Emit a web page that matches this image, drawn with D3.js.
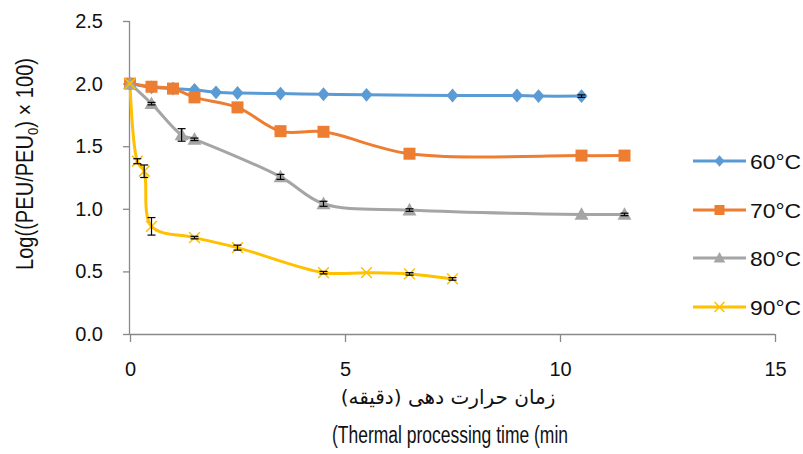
<!DOCTYPE html>
<html><head><meta charset="utf-8">
<script src="https://cdn.jsdelivr.net/npm/d3@7"></script>
<style>body{margin:0;background:#fff}svg{display:block}</style>
</head><body><svg id="c" width="803" height="454"></svg>
<script>
const seriesNames = ["60°C","70°C","80°C","90°C"];
const colors = ["#5B9BD5","#ED7D31","#A5A5A5","#FFC000"];
const t60 = [0,0.5,1,1.5,2,2.5,3.5,4.5,5.5,7.5,9,9.5,10.5];
const v60 = [2.0,1.97,1.96,1.95,1.93,1.925,1.92,1.915,1.91,1.905,1.905,1.90,1.90];
const e60 = [0,0,0,0,0,0,0,0,0,0,0,0,0.01];
const t70 = [0,0.5,1,1.5,2.5,3.5,4.5,6.5,10.5,11.5];
const v70 = [2.0,1.975,1.96,1.89,1.81,1.62,1.615,1.44,1.425,1.425];
const e70 = [0,0,0,0,0,0,0,0,0,0];
const t80 = [0,0.5,1.2,1.5,3.5,4.5,6.5,10.5,11.5];
const v80 = [2.0,1.84,1.59,1.555,1.255,1.04,0.99,0.955,0.955];
const e80 = [0,0.01,0.05,0.01,0.02,0.02,0.01,0,0.01];
const t90 = [0,0.17,0.33,0.5,1.5,2.5,4.5,5.5,6.5,7.5];
const v90 = [2.0,1.38,1.30,0.86,0.77,0.69,0.49,0.49,0.48,0.44];
const e90 = [0,0.02,0.05,0.07,0.01,0.02,0.01,0,0.01,0.01];
const xTicks = [0,5,10,15];
const yTicks = [0,0.5,1.0,1.5,2.0,2.5];
const yTitle = "Log((PEU/PEU";
const xTitleFa = "زمان حرارت دهی (دقیقه)";
const xTitleEn = "(Thermal processing time (min";

const series = [[t60,v60,e60],[t70,v70,e70],[t80,v80,e80],[t90,v90,e90]].map((s,i)=>({
  name:seriesNames[i], color:colors[i], pts:s[0].map((t,j)=>({x:t,y:s[1][j],e:s[2][j]}))
}));

const svg = d3.select("#c");
const font = "'Liberation Sans', Arial, sans-serif";
const x = d3.scaleLinear().domain([0,15]).range([130,775]);
const y = d3.scaleLinear().domain([0,2.5]).range([334,21]);

// axes
const xAx = svg.append("g").attr("transform","translate(0,334)")
  .call(d3.axisBottom(x).tickValues(xTicks).tickSize(8).tickPadding(20).tickFormat(d3.format("d")));
const yAx = svg.append("g").attr("transform","translate(130,0)")
  .call(d3.axisLeft(y).tickValues(yTicks).tickSize(7).tickPadding(20).tickFormat(d3.format(".1f")));
[xAx,yAx].forEach(g=>{
  g.select(".domain").attr("stroke","#898989").attr("stroke-width",1.3);
  g.selectAll(".tick line").attr("stroke","#898989").attr("stroke-width",1.3);
  g.selectAll(".tick text").attr("fill","#111").style("font-family",font).style("font-size","20px");
});
xAx.select(".domain").attr("d","M130,0.5H775");
yAx.select(".domain").attr("d","M-0.5,21V334");

// lines
const line = d3.line().x(d=>x(d.x)).y(d=>y(d.y)).curve(d3.curveCatmullRom.alpha(0.5));
series.forEach(s=>{
  svg.append("path").datum(s.pts).attr("d",line).attr("fill","none")
    .attr("stroke",s.color).attr("stroke-width",3).attr("stroke-linejoin","round");
});

function marker(g,i,color,cx,cy,sz){
  if(i===0){
    g.append("path").attr("d",`M${cx},${cy-sz*0.58}L${cx+sz*0.5},${cy}L${cx},${cy+sz*0.58}L${cx-sz*0.5},${cy}Z`).attr("fill",color);
  } else if(i===1){
    g.append("rect").attr("x",cx-sz/2).attr("y",cy-sz/2).attr("width",sz).attr("height",sz).attr("fill",color);
  } else if(i===2){
    g.append("path").attr("d",`M${cx},${cy-sz*0.6}L${cx+sz*0.58},${cy+sz*0.45}L${cx-sz*0.58},${cy+sz*0.45}Z`).attr("fill",color);
  } else {
    const h=sz*0.45;
    g.append("path").attr("d",`M${cx-h},${cy-h}L${cx+h},${cy+h}M${cx-h},${cy+h}L${cx+h},${cy-h}`)
      .attr("stroke",color).attr("stroke-width",1.5).attr("fill","none");
  }
}

// markers + error bars
series.forEach((s,i)=>{
  const g = svg.append("g");
  s.pts.forEach(p=>{
    marker(g,i,s.color,x(p.x),y(p.y),12);
  });
  const eg = svg.append("g").attr("stroke","#000").attr("stroke-width",1.2);
  s.pts.filter(p=>p.e>0).forEach(p=>{
    const cx=x(p.x), y1=y(p.y+p.e), y2=y(p.y-p.e);
    eg.append("line").attr("x1",cx).attr("x2",cx).attr("y1",y1).attr("y2",y2);
    eg.append("line").attr("x1",cx-4).attr("x2",cx+4).attr("y1",y1).attr("y2",y1);
    eg.append("line").attr("x1",cx-4).attr("x2",cx+4).attr("y1",y2).attr("y2",y2);
  });
});

// legend
const legY = [161,210,258,307];
series.forEach((s,i)=>{
  const g = svg.append("g");
  g.append("line").attr("x1",693).attr("x2",746).attr("y1",legY[i]).attr("y2",legY[i])
    .attr("stroke",s.color).attr("stroke-width",3);
  marker(g,i,s.color,719.5,legY[i],i===3?11:10);
  g.append("text").attr("x",750).attr("y",legY[i]).attr("dy","0.36em")
    .style("font-family",font).style("font-size","21px").attr("fill","#111")
    .attr("textLength",51).attr("lengthAdjust","spacingAndGlyphs").text(s.name);
});

// axis titles
const yt = svg.append("text").attr("transform","translate(33,164) rotate(-90)").attr("text-anchor","middle")
  .style("font-family",font).style("font-size","23px").attr("fill","#111")
  .attr("textLength",212).attr("lengthAdjust","spacingAndGlyphs");
yt.append("tspan").text(yTitle);
yt.append("tspan").attr("dy",5).style("font-size","15px").text("0");
yt.append("tspan").attr("dy",-5).text(") × 100)");

svg.append("text").attr("x",448).attr("y",404).attr("text-anchor","middle")
  .style("font-family","'DejaVu Sans', sans-serif").style("font-size","20px").attr("fill","#111")
  .attr("direction","rtl").style("unicode-bidi","embed").text(xTitleFa);
svg.append("text").attr("x",450).attr("y",443).attr("text-anchor","middle")
  .style("font-family",font).style("font-size","23px").attr("fill","#111")
  .attr("textLength",236).attr("lengthAdjust","spacingAndGlyphs").text(xTitleEn);
</script></body></html>
